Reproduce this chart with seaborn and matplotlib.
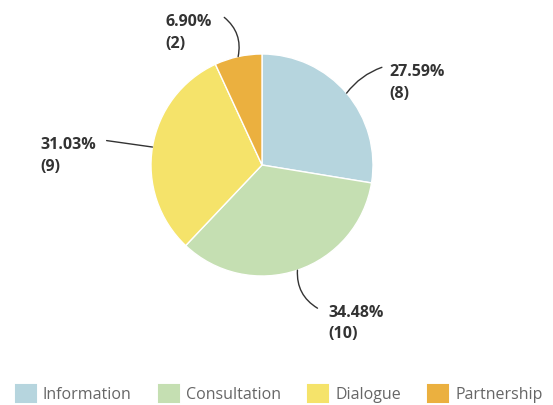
import numpy as np
import matplotlib
matplotlib.use("Agg")
import matplotlib.pyplot as plt
import seaborn as sns
from matplotlib.patches import Patch

# data
categories = ["Information", "Consultation", "Dialogue", "Partnership"]
counts = [8, 10, 9, 2]
colors = ["#b6d5de", "#c5dfb2", "#f5e36a", "#ebb03f"]

# label text anchor (data coords, unit = pie radius) and leader line start
label_pos = [(1.15, 0.74), (0.60, -1.43), (-2.00, 0.08), (-0.87, 1.19)]
line_start = [(1.08, 0.88), (0.50, -1.29), (-1.40, 0.22), (-0.34, 1.33)]
line_rad = [0.15, -0.3, 0.0, -0.3]

sns.set_theme(style="white")
plt.rcParams["font.family"] = ["Open Sans", "DejaVu Sans"]

fig = plt.figure(figsize=(5.53, 4.05), dpi=100)
ax = fig.add_axes([151 / 553, 129 / 405, 222 / 553, 222 / 405])

wedges, _ = ax.pie(counts, colors=colors, startangle=90, counterclock=False,
                   radius=1, wedgeprops=dict(linewidth=1, edgecolor="white"))
ax.set_xlim(-1, 1)
ax.set_ylim(-1, 1)
ax.axis("off")

total = sum(counts)
for i, w in enumerate(wedges):
    mid = np.deg2rad((w.theta1 + w.theta2) / 2)
    edge = (np.cos(mid), np.sin(mid))
    ax.annotate("", xy=edge, xytext=line_start[i],
                arrowprops=dict(arrowstyle="-", color="#333333", lw=1,
                                shrinkA=0, shrinkB=0,
                                connectionstyle=f"arc3,rad={line_rad[i]}"),
                annotation_clip=False)
    pct = counts[i] / total * 100
    ax.text(label_pos[i][0], label_pos[i][1], f"{pct:.2f}%\n({counts[i]})",
            ha="left", va="center", fontsize=11.5, fontweight="bold",
            color="#333333", linespacing=1.45, clip_on=False)

handles = [Patch(facecolor=c, edgecolor=c, linewidth=1.5, joinstyle="round")
           for c in colors]
fig.legend(handles, categories, loc="center", bbox_to_anchor=(0.505, 11 / 405),
           ncol=4, frameon=False, fontsize=11.5, labelcolor="#666666",
           handlelength=1.25, handleheight=1.25, handletextpad=0.45,
           columnspacing=1.7, borderpad=0)

fig.savefig("out.png", dpi=100)
plt.close(fig)
